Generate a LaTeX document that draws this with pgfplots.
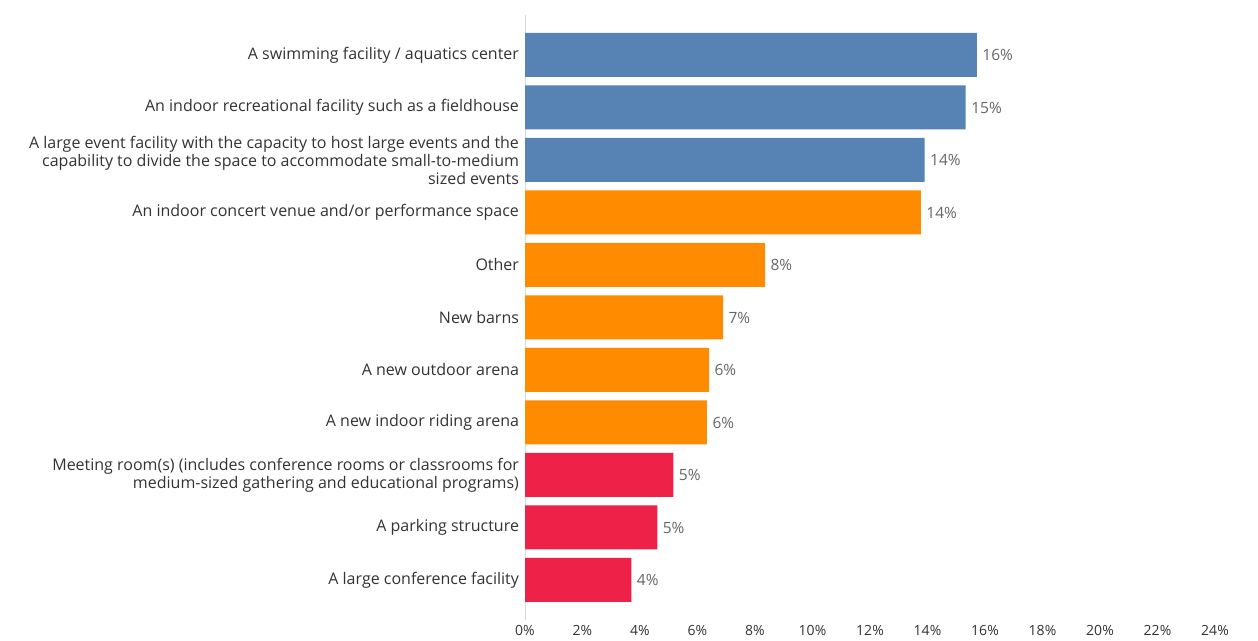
\documentclass[border=0pt]{standalone}
\usepackage{fontspec}
\setmainfont{Open Sans}
\usepackage{pgfplots}
\pgfplotsset{compat=1.18}
\definecolor{cblue}{RGB}{86,130,180}
\definecolor{corange}{RGB}{255,140,0}
\definecolor{cred}{RGB}{238,34,72}
\definecolor{ctext}{RGB}{51,51,51}
\definecolor{cval}{RGB}{102,102,102}
\begin{document}
\begin{tikzpicture}
\useasboundingbox (0pt,0pt) rectangle (1258pt,640pt);
\begin{axis}[
  at={(525pt,20pt)}, anchor=south west,
  scale only axis, width=690pt, height=605pt,
  xmin=0, xmax=24, ymin=-0.762, ymax=10.762,
  xbar, bar shift=0pt, bar width=0.838,
  axis lines*=left,
  x axis line style={draw=none},
  y axis line style={draw=black!15},
  major tick length=0pt,
  xtick={0,2,...,24},
  xticklabel={\pgfmathprintnumber{\tick}\%},
  /pgf/number format/assume math mode=true,
  xticklabel style={font=\fontsize{14}{16}\selectfont, text=ctext, yshift=-2pt},
  ytick={0,...,10},
  yticklabels={
    A large conference facility,
    A parking structure,
    {Meeting room(s) (includes conference rooms or classrooms for\\medium-sized gathering and educational programs)},
    A new indoor riding arena,
    A new outdoor arena,
    New barns,
    Other,
    An indoor concert venue and/or performance space,
    {A large event facility with the capacity to host large events and the\\capability to divide the space to accommodate small-to-medium\\sized events},
    An indoor recreational facility such as a fieldhouse,
    A swimming facility / aquatics center},
  yticklabel style={font=\fontsize{16}{18}\selectfont, text=ctext, align=right, xshift=-2.5pt},
  nodes near coords={\pgfmathprintnumber[fixed,precision=0]{\pgfplotspointmeta}\%},
  nodes near coords style={font=\fontsize{15.5}{17}\selectfont, text=cval, anchor=west, xshift=2pt},
  point meta=x,
]
\addplot[fill=cred, draw=none] coordinates {(3.70,0) (4.60,1) (5.16,2)};
\addplot[fill=corange, draw=none] coordinates {(6.33,3) (6.40,4) (6.89,5) (8.35,6) (13.77,7)};
\addplot[fill=cblue, draw=none] coordinates {(13.90,8) (15.33,9) (15.72,10)};
\end{axis}
\end{tikzpicture}
\end{document}
